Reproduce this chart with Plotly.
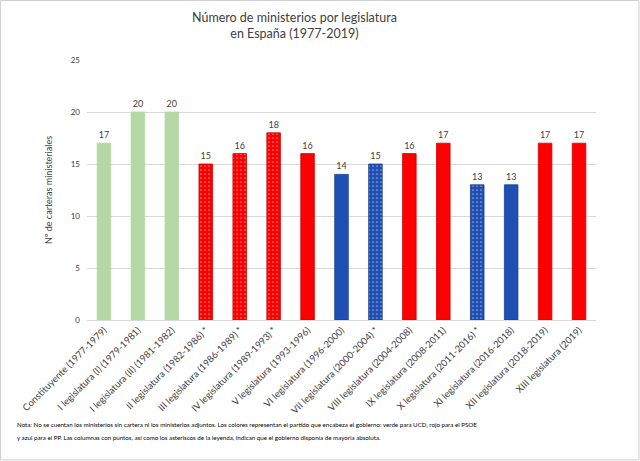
import plotly.graph_objects as go

categories = [
    "Constituyente (1977-1979)",
    "I legislatura (I) (1979-1981)",
    "I legislatura (II) (1981-1982)",
    "II legislatura (1982-1986) *",
    "III legislatura (1986-1989) *",
    "IV legislatura (1989-1993) *",
    "V legislatura (1993-1996)",
    "VI legislatura (1996-2000)",
    "VII legislatura (2000-2004) *",
    "VIII legislatura (2004-2008)",
    "IX legislatura (2008-2011)",
    "X legislatura (2011-2016) *",
    "XI legislatura (2016-2018)",
    "XII legislatura (2018-2019)",
    "XIII legislatura (2019)",
]
values = [17, 20, 20, 15, 16, 18, 16, 14, 15, 16, 17, 13, 13, 17, 17]
party = ["UCD", "UCD", "UCD", "PSOE", "PSOE", "PSOE", "PSOE", "PP", "PP",
         "PSOE", "PSOE", "PP", "PP", "PSOE", "PSOE"]
absolute_majority = [False, False, False, True, True, True, False, False, True,
                     False, False, True, False, False, False]

note_lines = [
    "Nota: No se cuentan los ministerios sin cartera ni los ministerios adjuntos. Los colores representan el partido que encabeza el gobierno: verde para UCD, rojo para el PSOE",
    "y azul para el PP. Las columnas con puntos, así como los asteriscos de la leyenda, indican que el gobierno disponía de mayoría absoluta.",
]

fill_colors = {"UCD": "#b4d8a4", "PSOE": "#ff0000", "PP": "#1f4fb4"}
line_colors = {"UCD": "#b4d8a4", "PSOE": "#d00000", "PP": "#183f90"}

fig = go.Figure()
fig.add_trace(go.Bar(
    x=categories,
    y=values,
    text=[str(v) for v in values],
    textposition="outside",
    textfont=dict(size=9, color="#404040"),
    cliponaxis=False,
    marker=dict(
        color=[fill_colors[p] for p in party],
        line=dict(color=[line_colors[p] for p in party], width=0.8),
        pattern=dict(
            shape=["." if m else "" for m in absolute_majority],
            fgcolor="white",
            size=4,
            solidity=0.15,
        ),
    ),
    hoverinfo="x+y",
))

annotations = [
    dict(
        xref="paper", yref="paper", x=0.407, y=1.131, xanchor="center", yanchor="middle",
        align="center", showarrow=False,
        text="Número de ministerios por legislatura<br>en España (1977-2019)",
        font=dict(size=12.5, color="#404040"),
    )
]
for i, line in enumerate(note_lines):
    annotations.append(dict(
        xref="paper", yref="paper", x=-0.1415, y=(320 - 424 - 13 * i) / 260,
        xanchor="left", yanchor="middle", align="left", showarrow=False,
        text=line, font=dict(size=6.2, color="#000000"),
    ))

fig.update_layout(
    width=640, height=461,
    margin=dict(l=87, r=44, t=60, b=141),
    paper_bgcolor="white",
    plot_bgcolor="white",
    font=dict(family="Lato, Open Sans, sans-serif", color="#404040"),
    bargap=0.6,
    showlegend=False,
    xaxis=dict(
        tickangle=-45,
        tickfont=dict(size=9.5, color="#404040"),
        showline=True, linecolor="#d9d9d9", linewidth=1,
        ticks="",
    ),
    yaxis=dict(
        range=[0, 25],
        tickvals=[0, 5, 10, 15, 20, 25],
        tickfont=dict(size=8, color="#404040"),
        ticklabelstandoff=6,
        gridcolor="#d9d9d9", gridwidth=1,
        zeroline=False,
        showline=False,
        ticks="",
        title=dict(text="Nº de carteras ministeriales", font=dict(size=9, color="#404040"), standoff=16),
    ),
    shapes=[dict(type="rect", xref="paper", yref="paper",
                 x0=-0.1700, x1=1.0845, y0=-0.5385, y1=1.2288,
                 line=dict(color="#d0d0d0", width=1))],
    annotations=annotations,
)

fig.write_html("out.html")
